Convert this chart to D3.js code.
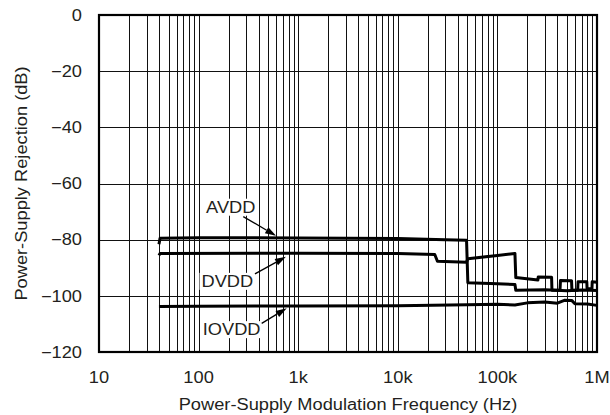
<!DOCTYPE html>
<html lang="en">
<head>
<meta charset="UTF-8">
<title>PSRR</title>
<script src="https://d3js.org/d3.v7.min.js"></script>
<style>
  body { margin: 0; padding: 0; background: #fff; }
  svg { display: block; font-family: 'Liberation Sans', Arial, sans-serif; }
  .grid line { stroke: #111; stroke-width: 1; }
  .trace { fill: none; stroke: #000; stroke-width: 3; stroke-linejoin: round; }
</style>
</head>
<body>
<svg width="610" height="415"></svg>
<script>
// frequencies in Hz, values in dB
const avdd = [
  [40, -81.6], [41, -79.5], [100, -79.3], [1000, -79.4], [10000, -79.6],
  [30000, -80.0], [49000, -80.2], [50500, -95.3], [100000, -95.7],
  [150000, -96.0], [153000, -98.0], [300000, -97.8], [500000, -98.2],
  [700000, -97.9], [1000000, -98.1]
];
const dvdd = [
  [40, -85.6], [41, -84.9], [1000, -84.8], [10000, -84.9], [23500, -85.3],
  [25000, -87.7], [49000, -88.0], [50500, -86.8], [100000, -85.6],
  [150000, -84.9], [153000, -93.5], [255000, -94.4], [257000, -93.3],
  [350000, -93.4], [353000, -98.0], [425000, -98.0], [430000, -94.5],
  [555000, -94.6], [560000, -98.0], [640000, -98.0], [645000, -95.0],
  [790000, -95.0], [795000, -97.5], [890000, -97.5], [895000, -95.0],
  [1000000, -95.2]
];
const iovdd = [
  [40, -103.8], [100, -103.7], [1000, -103.6], [10000, -103.5], [50000, -103.2],
  [100000, -103.0], [150000, -103.3], [200000, -102.5], [300000, -102.2],
  [400000, -102.6], [470000, -101.6], [560000, -101.7], [600000, -102.8],
  [800000, -102.9], [1000000, -103.4]
];
const series = [avdd, dvdd, iovdd];

const xTickValues = [10, 100, 1000, 10000, 100000, 1000000];
const xTickLabels = ["10", "100", "1k", "10k", "100k", "1M"];
const yTickValues = [0, -20, -40, -60, -80, -100, -120];

// callouts: label anchor, arrow tail and arrow tip in data units
const callouts = [
  { name: "AVDD",  lf: 119, ldb: -70.4, tf: 281, tdb: -71.8, hf: 600, hdb: -78.6 },
  { name: "DVDD",  lf: 107, ldb: -96.8, tf: 368, tdb: -92.2, hf: 753, hdb: -86.1 },
  { name: "IOVDD", lf: 110, ldb: -114.0, tf: 430, tdb: -109.8, hf: 767, hdb: -104.4 }
];

const svg = d3.select("svg");
const margin = { top: 15, right: 13, bottom: 63, left: 99 };
const width = +svg.attr("width") - margin.left - margin.right;
const height = +svg.attr("height") - margin.top - margin.bottom;
const g = svg.append("g").attr("transform", `translate(${margin.left},${margin.top})`);

const x = d3.scaleLog().domain([10, 1000000]).range([0, width]);
const y = d3.scaleLinear().domain([-120, 0]).range([height, 0]);

// stretch text a bit wider, the original font is broader than Liberation Sans
function widen(sel) {
  sel.each(function() {
    const w = this.getComputedTextLength();
    d3.select(this).attr("textLength", w * 1.14).attr("lengthAdjust", "spacingAndGlyphs");
  });
}

// grid
const grid = g.append("g").attr("class", "grid");
grid.selectAll(".vx")
    .data(x.ticks())
    .enter().append("line")
    .attr("x1", d => Math.round(x(d)) + 0.5)
    .attr("x2", d => Math.round(x(d)) + 0.5)
    .attr("y1", 0).attr("y2", height);
grid.selectAll(".hy")
    .data(yTickValues)
    .enter().append("line")
    .attr("y1", d => Math.round(y(d)) + 0.5)
    .attr("y2", d => Math.round(y(d)) + 0.5)
    .attr("x1", 0).attr("x2", width);

// axes labels
const xl = g.selectAll(".xlab")
    .data(xTickValues)
    .enter().append("text")
    .attr("x", d => x(d))
    .attr("y", height + 31)
    .attr("text-anchor", "middle")
    .attr("font-size", 16)
    .attr("fill", "#231f20")
    .text((d, i) => xTickLabels[i]);
widen(xl);

const yl = g.selectAll(".ylab")
    .data(yTickValues)
    .enter().append("text")
    .attr("x", -17)
    .attr("y", d => y(d))
    .attr("dy", "0.36em")
    .attr("text-anchor", "end")
    .attr("font-size", 16)
    .attr("fill", "#231f20")
    .text(d => d3.format("d")(d));
widen(yl);

const xt = svg.append("text")
    .attr("x", margin.left + width / 2)
    .attr("y", 410)
    .attr("text-anchor", "middle")
    .attr("font-size", 16)
    .attr("fill", "#231f20")
    .text("Power-Supply Modulation Frequency (Hz)");
widen(xt);

const yt = svg.append("text")
    .attr("transform", `translate(26.5,${margin.top + height / 2}) rotate(-90)`)
    .attr("text-anchor", "middle")
    .attr("font-size", 16)
    .attr("fill", "#231f20")
    .text("Power-Supply Rejection (dB)");
widen(yt);

// traces
const line = d3.line().x(d => x(d[0])).y(d => y(d[1]));
g.selectAll(".trace")
    .data(series)
    .enter().append("path")
    .attr("class", "trace")
    .attr("d", line);

// callouts
callouts.forEach(function(c) {
  const t = g.append("text")
      .attr("x", x(c.lf))
      .attr("y", y(c.ldb))
      .attr("font-size", 16)
      .attr("fill", "#231f20")
      .text(c.name);
  widen(t);
  const bb = t.node().getBBox();
  g.insert("rect", "text")
      .attr("x", bb.x - 2).attr("y", bb.y)
      .attr("width", bb.width + 4).attr("height", bb.height)
      .attr("fill", "#fff");

  const x0 = x(c.tf), y0 = y(c.tdb), x1 = x(c.hf), y1 = y(c.hdb);
  const ang = Math.atan2(y1 - y0, x1 - x0);
  const len = 11, hw = 3.5;
  const bx = x1 - len * Math.cos(ang), by = y1 - len * Math.sin(ang);
  g.append("line")
      .attr("x1", x0).attr("y1", y0).attr("x2", bx).attr("y2", by)
      .attr("stroke", "#000").attr("stroke-width", 1.3);
  g.append("path")
      .attr("d", `M${x1},${y1}L${bx - hw * Math.sin(ang)},${by + hw * Math.cos(ang)}L${bx + hw * Math.sin(ang)},${by - hw * Math.cos(ang)}Z`)
      .attr("fill", "#000");
});

// frame
g.append("rect")
    .attr("x", 0).attr("y", 0)
    .attr("width", width).attr("height", height)
    .attr("fill", "none")
    .attr("stroke", "#000")
    .attr("stroke-width", 2.2);
</script>
</body>
</html>
